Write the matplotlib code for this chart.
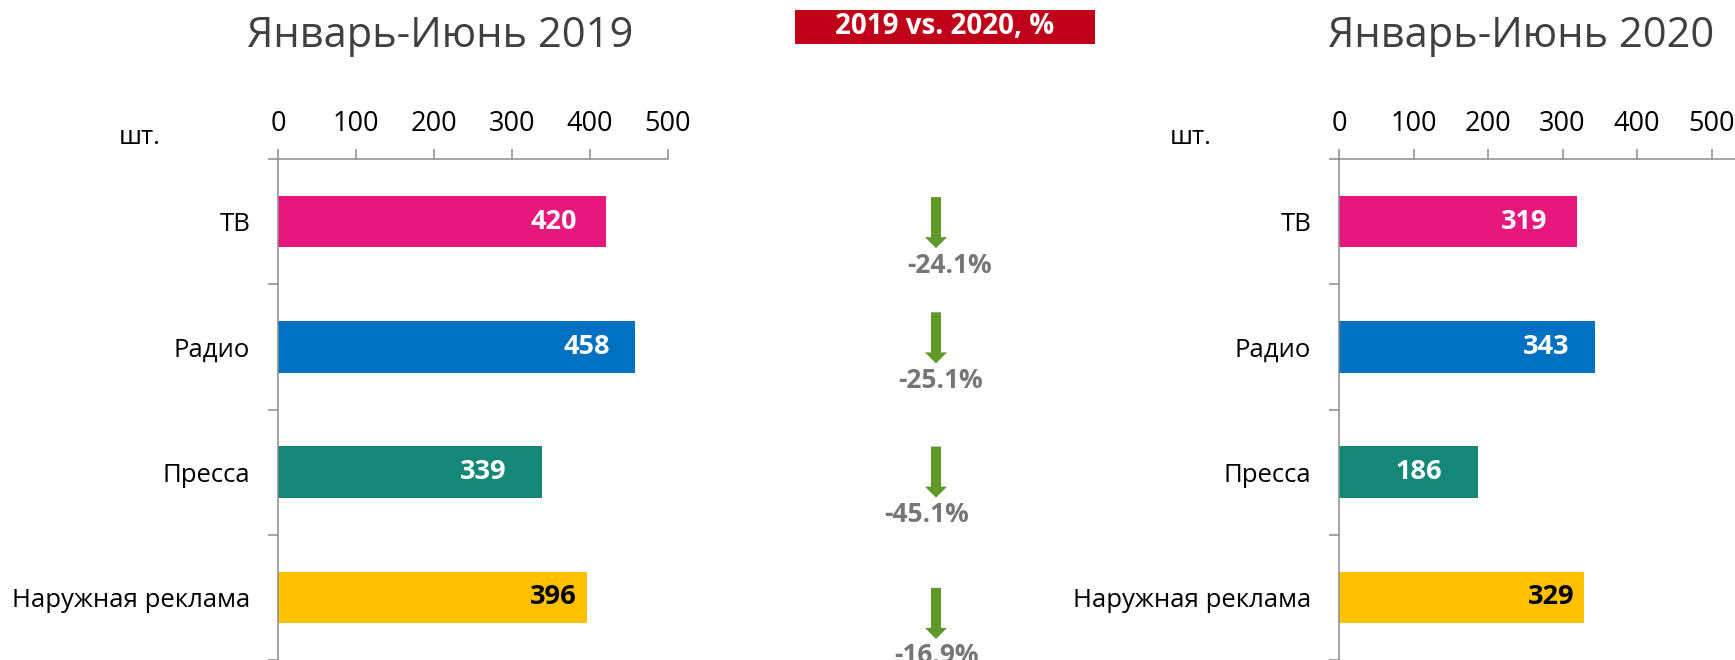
import numpy as np
import matplotlib
matplotlib.use("Agg")
import matplotlib.pyplot as plt
from matplotlib.patches import Rectangle, Polygon

plt.rcParams['font.family'] = ['Open Sans', 'DejaVu Sans']

# ---- data ----
categories = ["ТВ", "Радио", "Пресса", "Наружная реклама"]
values_2019 = [420, 458, 339, 396]
values_2020 = [319, 343, 186, 329]
change_labels = ["-24.1%", "-25.1%", "-45.1%", "-16.9%"]
xticks = [0, 100, 200, 300, 400, 500]
title_2019 = "Январь-Июнь 2019"
title_2020 = "Январь-Июнь 2020"
badge_text = "2019 vs. 2020, %"
unit_text = "шт."

# ---- styles / layout ----
bar_colors = ["#E8177D", "#0070C0", "#148776", "#FFC000"]
label_colors = ["white", "white", "white", "black"]
label_pad_px = [29, 25, 36, 10]
arrow_shift = [-0.196, -0.276, -0.204, -0.076]
pct_dx_px = [13.5, 4.5, -9, 0]
axis_gray = "#8C8C8C"
W, H = 1735, 660

fig = plt.figure(figsize=(W / 100, H / 100), dpi=100)


def fx(px):
    return px / W


def fy(py):
    return 1 - py / H


top_frac = fy(159)


def make_panel(left_px, right_px, xmax, values, title, title_cx, unit_x):
    ax = fig.add_axes([fx(left_px), 0, fx(right_px - left_px), top_frac])
    y = np.arange(len(categories))
    ax.barh(y, values, height=0.41, color=bar_colors, zorder=2)
    ax.set_xlim(0, xmax)
    ax.set_ylim(len(categories) - 0.5, -0.5)
    ax.xaxis.tick_top()
    ax.set_xticks(xticks)
    ax.set_xticklabels([str(t) for t in xticks])
    ax.tick_params(axis='x', direction='out', length=7.2, width=1.1,
                   color=axis_gray, pad=8, labelsize=19.5, labelcolor='black')
    ax.set_yticks(y)
    ax.set_yticklabels(categories)
    ax.tick_params(axis='y', which='major', length=0, pad=20, labelsize=18.5,
                   labelcolor='black')
    ax.set_yticks(np.arange(len(categories) + 1) - 0.5, minor=True)
    ax.tick_params(axis='y', which='minor', direction='out', length=7.2,
                   width=1.1, color=axis_gray)
    for s in ['right', 'bottom']:
        ax.spines[s].set_visible(False)
    for s in ['left', 'top']:
        ax.spines[s].set_color(axis_gray)
        ax.spines[s].set_linewidth(1.1)
    for i, v in enumerate(values):
        ax.annotate(str(v), xy=(v, i), xytext=(-label_pad_px[i] * 0.72, 0),
                    textcoords='offset points', ha='right', va='center',
                    fontsize=19.5, fontweight='bold', color=label_colors[i])
    fig.text(fx(title_cx), fy(47), title, ha='center', va='baseline',
             fontsize=30, color='#404040')
    fig.text(fx(unit_x), fy(138), unit_text, ha='left', va='center',
             fontsize=18.5, color='black')
    return ax


ax1 = make_panel(278, 668, 500, values_2019, title_2019, 440, 119)
ax2 = make_panel(1339, 1735, 396 / 0.745, values_2020, title_2020, 1521, 1170)

# ---- middle column: arrows and percent changes ----
axm = fig.add_axes([0, 0, 1, top_frac])
axm.set_xlim(0, W)
axm.set_ylim(len(categories) - 0.5, -0.5)
axm.axis('off')
axm.patch.set_alpha(0)
arrow_x = 936
cat_px = 125.0
shaft_hw, head_hw = 5, 11
arrow_len = 51 / cat_px
head_len = 11 / cat_px
for i, lab in enumerate(change_labels):
    top = i + arrow_shift[i]
    tip = top + arrow_len
    hb = tip - head_len
    verts = [(arrow_x - shaft_hw, top), (arrow_x + shaft_hw, top),
             (arrow_x + shaft_hw, hb), (arrow_x + head_hw, hb),
             (arrow_x, tip), (arrow_x - head_hw, hb),
             (arrow_x - shaft_hw, hb)]
    axm.add_patch(Polygon(verts, closed=True, facecolor='#5E9A2A',
                          edgecolor='none'))
    axm.text(arrow_x + pct_dx_px[i], tip + 17 / cat_px, lab, ha='center',
             va='center', fontsize=19, fontweight='bold', color='#767676',
             clip_on=False)

# ---- red badge ----
fig.patches.append(Rectangle((fx(795), fy(44)), fx(1095 - 795), (44 - 10) / H,
                             transform=fig.transFigure, facecolor='#C00018',
                             edgecolor='none', zorder=1))
fig.text(fx(945), fy(27), badge_text, ha='center', va='center', fontsize=20,
         fontweight='bold', color='white', zorder=2)

fig.savefig("out.png", dpi=100)
